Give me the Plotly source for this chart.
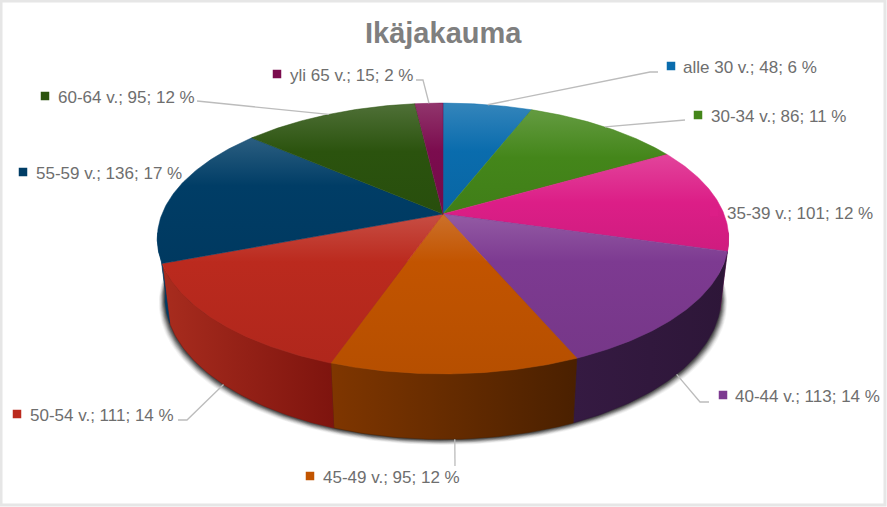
import numpy as np
import plotly.graph_objects as go

categories = ["alle 30 v.", "30-34 v.", "35-39 v.", "40-44 v.", "45-49 v.", "50-54 v.", "55-59 v.", "60-64 v.", "yli 65 v."]
values = [48, 86, 101, 113, 95, 111, 136, 95, 15]
percents = [6, 11, 12, 14, 12, 14, 17, 12, 2]
title = "Ikäjakauma"

top_colors = ["#0a6cad", "#44861a", "#dc1e87", "#7d3a91", "#c25400", "#bb2a1e", "#003d66", "#2b530e", "#7b0c4e"]
wall_left = ["#06406a", "#2a520e", "#80105a", "#351a42", "#7f3600", "#a82c1e", "#003a62", "#1a3408", "#4a0830"]
wall_right = ["#06406a", "#2a520e", "#80105a", "#2d1638", "#4a2000", "#7e140e", "#003a62", "#1a3408", "#4a0830"]

label_x = [681, 709, 725, 733, 321, 28, 34, 56, 288]
label_y = [67, 116, 213, 396, 477, 415, 173, 97, 75]
key_x = [671, 698, 714, 723, 310, 17, 23, 45, 277]
# elbow points of the leader lines, None where there is no leader
elbows = [[(650, 72), (658, 72)], [(685, 120)], None, [(700, 402), (709, 402)], [(455, 466)],
          [(187, 420), (178, 420)], None, [(197, 101)], [(423, 80), (416, 80)]]

CX, CY = 443, 214
A, B, K = 281, 131, 0.181
SX, SY, DROP = 0.973, 1.05, 57.5


def top_xy(theta):
    u, v = np.sin(theta), np.cos(theta)
    w = 1 + K * v
    return CX + A * u / w, CY - B * v / w


def bottom_xy(theta):
    x, y = top_xy(theta)
    return CX + SX * (x - CX), CY + SY * (y - CY) + DROP


def lighten(color, t):
    rgb = [int(color[i:i + 2], 16) for i in (1, 3, 5)]
    rgb = [max(0, min(255, round(c + (255 - c) * t if t > 0 else c * (1 + t)))) for c in rgb]
    return "rgb(%d,%d,%d)" % tuple(rgb)


fractions = np.array(values) / sum(values)
edges = np.concatenate([[0], np.cumsum(fractions)]) * 2 * np.pi
mids = (edges[:-1] + edges[1:]) / 2

fig = go.Figure()

# soft shadow under the disc
ring = np.linspace(np.radians(85), np.radians(275), 200)
bx, by = bottom_xy(ring)
for grow, alpha in [(8, 0.05), (7, 0.07), (6, 0.1), (5, 0.14), (4, 0.18), (3, 0.24), (2, 0.3), (1, 0.35)]:
    fig.add_trace(go.Scatter(
        x=CX + (bx - CX) * (1 + grow * 0.8 / 286), y=by + grow * 0.7, mode="lines", fill="toself",
        fillcolor="rgba(30,30,30,%g)" % alpha, line=dict(width=0), hoverinfo="skip", showlegend=False))

# side wall, only the part that faces the viewer
vis_lo, vis_hi = np.radians(98), np.radians(262)
for i in range(len(values)):
    a0, a1 = max(edges[i], vis_lo), min(edges[i + 1], vis_hi)
    if a1 <= a0:
        continue
    th = np.linspace(a0, a1, 60)
    tx, ty = top_xy(th)
    wx, wy = bottom_xy(th)
    xs = np.concatenate([tx, wx[::-1], tx[:1]])
    ys = np.concatenate([ty, wy[::-1], ty[:1]])
    fig.add_trace(go.Scatter(
        x=xs, y=ys, mode="lines", fill="toself", line=dict(width=0.5, color=wall_right[i]),
        fillgradient=dict(type="horizontal", start=float(xs.min()), stop=float(xs.max()),
                          colorscale=[[0, wall_left[i]], [1, wall_right[i]]]),
        hoverinfo="skip", showlegend=False))

# top face of each slice
for i in range(len(values)):
    th = np.linspace(edges[i], edges[i + 1], 80)
    tx, ty = top_xy(th)
    xs = np.concatenate([[CX], tx, [CX]])
    ys = np.concatenate([[CY], ty, [CY]])
    lo, hi = float(ys.min()), float(ys.max())
    glow = min(0.9, 48 / (hi - lo))
    fig.add_trace(go.Scatter(
        x=xs, y=ys, mode="lines", fill="toself", line=dict(width=0.5, color=top_colors[i]),
        fillgradient=dict(type="vertical", start=lo, stop=hi, colorscale=[
            [0, lighten(top_colors[i], 0.17)], [glow, top_colors[i]], [1, lighten(top_colors[i], -0.06)]]),
        hoverinfo="skip", showlegend=False))

# leader lines run from the slice to the label elbow
for i, elbow in enumerate(elbows):
    if elbow is None:
        continue
    faces_front = np.cos(mids[i]) < -0.2
    px, py = bottom_xy(mids[i]) if faces_front else top_xy(mids[i])
    fig.add_trace(go.Scatter(
        x=[float(px)] + [p[0] for p in elbow], y=[float(py)] + [p[1] for p in elbow], mode="lines",
        line=dict(color="#bcbcbc", width=1.3), hoverinfo="skip", showlegend=False))

# key squares beside the labels
fig.add_trace(go.Scatter(
    x=key_x, y=[y - 1 for y in label_y], mode="markers",
    marker=dict(symbol="square", size=8.5, color=top_colors, line=dict(width=0)),
    hoverinfo="skip", showlegend=False))

for i, name in enumerate(categories):
    fig.add_annotation(
        x=label_x[i], y=label_y[i], xref="x", yref="y", xanchor="left", yanchor="middle", showarrow=False,
        text="%s; %d; %d %%" % (name, values[i], percents[i]),
        font=dict(family="Liberation Sans", size=17, color="#6e6e6e"))

fig.add_annotation(
    x=443, y=33, xref="x", yref="y", xanchor="center", yanchor="middle", showarrow=False, text=title,
    font=dict(family="Liberation Sans", size=29, color="#7f7f7f", weight="bold"))

fig.update_layout(
    width=887, height=507, margin=dict(l=0, r=0, t=0, b=0), paper_bgcolor="white", plot_bgcolor="white",
    xaxis=dict(range=[0, 887], visible=False, fixedrange=True),
    yaxis=dict(range=[507, 0], visible=False, fixedrange=True),
    shapes=[dict(type="rect", xref="x", yref="y", x0=1, y0=1, x1=885, y1=505,
                 line=dict(color="#e6e6e6", width=3), layer="below")])

fig.write_html("out.html", post_script="document.body.style.margin='0';", config=dict(displayModeBar=False))
